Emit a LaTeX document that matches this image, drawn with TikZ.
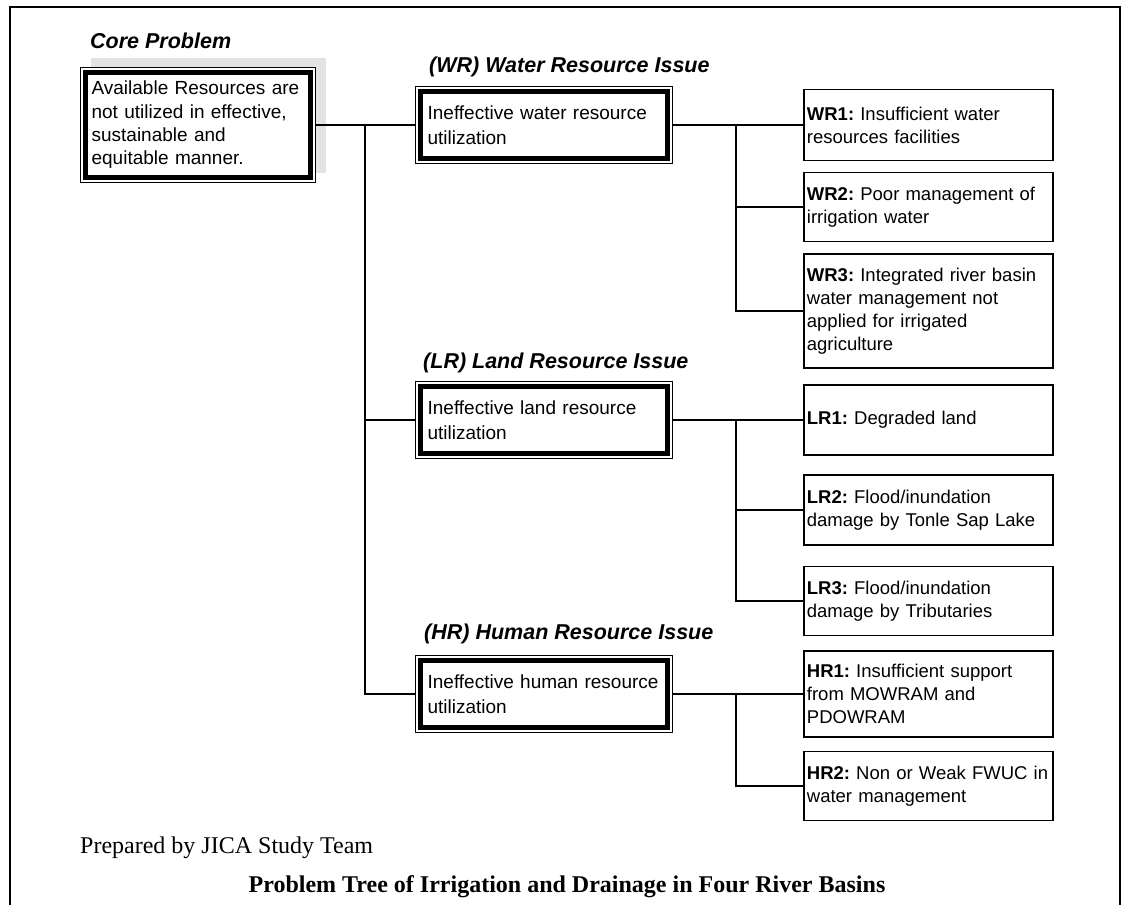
\documentclass[tikz,border=0pt]{standalone}
\usepackage{fontspec}
\setmainfont{Liberation Serif}
\setsansfont{Liberation Sans}
\usetikzlibrary{shadows}

\begin{document}
\frenchspacing
\begin{tikzpicture}[x=1pt,y=1pt,
    link/.style={line width=1.2pt},
    heading/.style={anchor=base west,inner sep=0pt,
      font=\sffamily\bfseries\itshape\fontsize{21.5}{24}\selectfont},
    causebox/.style={draw,line width=1.8pt,fill=white,anchor=west,align=left,
      font=\sffamily\fontsize{18.5}{23}\selectfont,
      inner xsep=3pt,inner ysep=2pt,text width=243pt},
    issuebox/.style={draw,line width=1.2pt,fill=white,anchor=west,align=left,
      font=\sffamily\fontsize{19}{24.5}\selectfont,
      inner xsep=12pt,inner ysep=2pt,text width=233pt,minimum height=77pt,
      path picture={\draw[line width=5pt]
        ([shift={(4.8pt,-4.8pt)}]path picture bounding box.north west) rectangle
        ([shift={(-4.8pt,4.8pt)}]path picture bounding box.south east);}},
  ]
  \useasboundingbox (0,0) rectangle (1126,-905);
  \draw[line width=1.6pt] (10,-905) -- (10,-7) -- (1120,-7) -- (1120,-905);

  % core problem
  \node[heading] (coretitle) at (90,-48) {Core Problem};
  \node[issuebox,text width=213pt,inner xsep=11pt,minimum height=115pt,
    font=\sffamily\fontsize{19}{23.3}\selectfont,
    drop shadow={shadow xshift=10pt,shadow yshift=10pt,fill=black!22}]
    (core) at (80,-125) {Available Resources are\\not utilized in effective,\\sustainable and\\equitable manner.};

  % issues
  \node[heading] (wrtitle) at (429,-72) {(WR) Water Resource Issue};
  \node[issuebox] (wr) at (415,-125) {Ineffective water resource\\utilization};
  \node[heading] (lrtitle) at (423,-368) {(LR) Land Resource Issue};
  \node[issuebox] (lr) at (415,-420) {Ineffective land resource\\utilization};
  \node[heading] (hrtitle) at (424,-639) {(HR) Human Resource Issue};
  \node[issuebox] (hr) at (415,-694) {Ineffective human resource\\utilization};

  % causes
  \node[causebox,minimum height=71pt] (wr1) at (803,-125) {\textbf{WR1:} Insufficient water\\resources facilities};
  \node[causebox,minimum height=69pt] (wr2) at (803,-207) {\textbf{WR2:} Poor management of\\irrigation water};
  \node[causebox,minimum height=114pt] (wr3) at (803,-311) {\textbf{WR3:} Integrated river basin\\water management not\\applied for irrigated\\agriculture};
  \node[causebox,minimum height=70pt] (lr1) at (803,-420) {\textbf{LR1:} Degraded land};
  \node[causebox,minimum height=70pt] (lr2) at (803,-510) {\textbf{LR2:} Flood/inundation\\damage by Tonle Sap Lake};
  \node[causebox,minimum height=69pt] (lr3) at (803,-601) {\textbf{LR3:} Flood/inundation\\damage by Tributaries};
  \node[causebox,minimum height=86pt] (hr1) at (803,-694) {\textbf{HR1:} Insufficient support\\from MOWRAM and\\PDOWRAM};
  \node[causebox,minimum height=69pt] (hr2) at (803,-786) {\textbf{HR2:} Non or Weak FWUC in\\water management};

  % connectors
  \coordinate (trunk) at (365,-125);
  \coordinate (wrfork) at (736,-125);
  \coordinate (lrfork) at (736,-420);
  \coordinate (hrfork) at (736,-694);
  \draw[link] (core.east) -- (wr.west);
  \draw[link] (trunk) |- (lr.west);
  \draw[link] (trunk) |- (hr.west);
  \draw[link] (wr.east) -- (wr1.west);
  \draw[link] (wrfork) |- (wr2.west);
  \draw[link] (wrfork) |- (wr3.west);
  \draw[link] (lr.east) -- (lr1.west);
  \draw[link] (lrfork) |- (lr2.west);
  \draw[link] (lrfork) |- (lr3.west);
  \draw[link] (hr.east) -- (hr1.west);
  \draw[link] (hrfork) |- (hr2.west);

  \node[anchor=base west,inner sep=0pt,font=\fontsize{24}{28}\selectfont]
    (credit) at (80,-853) {Prepared by JICA Study Team};
  \node[anchor=base,inner sep=0pt,font=\bfseries\fontsize{24}{28}\selectfont]
    (caption) at (567,-892) {Problem Tree of Irrigation and Drainage in Four River Basins};
\end{tikzpicture}
\end{document}
